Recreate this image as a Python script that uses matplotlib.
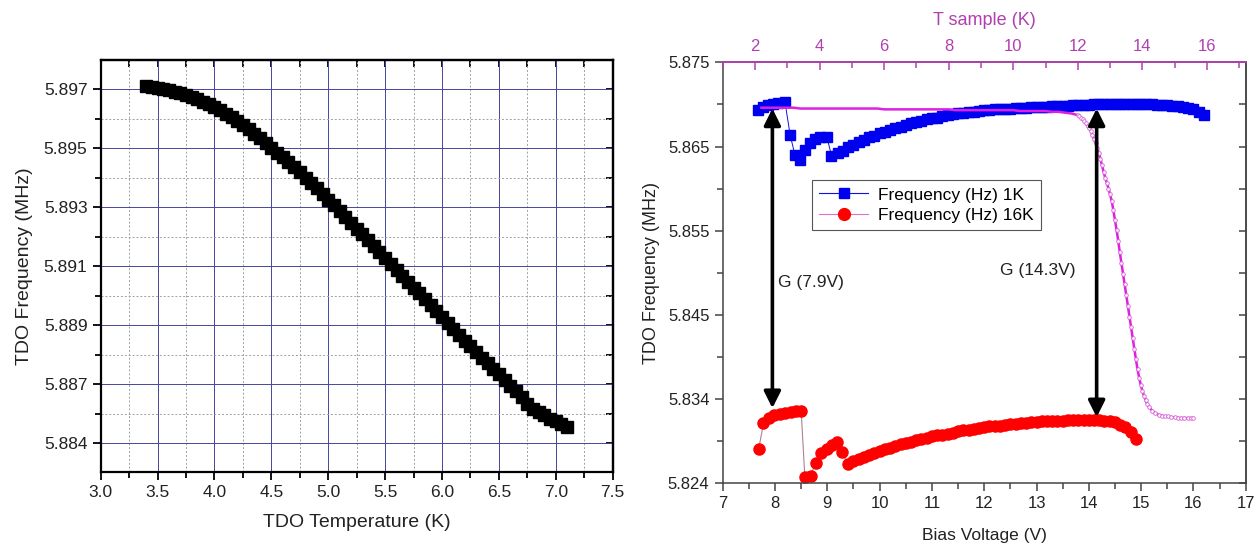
import numpy as np
import matplotlib
matplotlib.use('Agg')
import matplotlib.pyplot as plt
from matplotlib.lines import Line2D
from matplotlib.ticker import MultipleLocator, FixedLocator

plt.rcParams['font.family'] = ['Liberation Sans', 'DejaVu Sans']

# left panel: TDO frequency against TDO temperature (3.40 .. 7.10 K, step 0.05)
tdo_temp = np.round(np.arange(3.40, 7.101, 0.05), 2)
tdo_freq = [
    5.89710, 5.89707, 5.89704, 5.89700, 5.89696, 5.89691, 5.89686, 5.89680,
    5.89673, 5.89666, 5.89658, 5.89649, 5.89639, 5.89628, 5.89617, 5.89605,
    5.89592, 5.89578, 5.89564, 5.89549, 5.89534, 5.89518, 5.89502, 5.89485,
    5.89469, 5.89452, 5.89435, 5.89418, 5.89400, 5.89382, 5.89364, 5.89345,
    5.89326, 5.89307, 5.89288, 5.89268, 5.89248, 5.89228, 5.89208, 5.89188,
    5.89168, 5.89148, 5.89128, 5.89108, 5.89088, 5.89068, 5.89048, 5.89028,
    5.89008, 5.88988, 5.88968, 5.88948, 5.88928, 5.88908, 5.88888, 5.88868,
    5.88848, 5.88829, 5.88810, 5.88791, 5.88772, 5.88753, 5.88734, 5.88715,
    5.88696, 5.88677, 5.88658, 5.88635, 5.88618, 5.88605, 5.88595, 5.88584,
    5.88575, 5.88565, 5.88555,
]
left_yticks = [5.885, 5.887, 5.889, 5.891, 5.893, 5.895, 5.897]
left_ylabels = ['5.884', '5.887', '5.889', '5.891', '5.893', '5.895', '5.897']

# right panel: 1K sweep (blue squares)
blue_v_steps = [7.68, 7.78, 7.87, 7.97, 8.06, 8.19, 8.29, 8.38, 8.48, 8.57,
                8.67, 8.76, 8.86, 8.99, 9.08]
blue_f_steps = [5.8692, 5.8696, 5.8698, 5.8700, 5.8701, 5.8702, 5.8662, 5.8638,
                5.8632, 5.8644, 5.8652, 5.8657, 5.8659, 5.8660, 5.8637]
blue_v_band = np.round(np.arange(9.2, 16.201, 0.1), 1)
blue_f_band = [
    5.8640, 5.8643, 5.8647, 5.8650, 5.8653, 5.8656, 5.8659, 5.8661,
    5.8664, 5.8666, 5.8668, 5.8670, 5.8672, 5.8674, 5.8676, 5.8678, 5.8679, 5.8681,
    5.8682, 5.8683, 5.8685, 5.8686, 5.8687, 5.8688, 5.8689, 5.8690, 5.8690, 5.8691,
    5.8692, 5.8692, 5.8693, 5.8693, 5.8694, 5.8694, 5.8695, 5.8695, 5.8695, 5.8696,
    5.8696, 5.8696, 5.8696, 5.8697, 5.8697, 5.8697, 5.8697, 5.8698, 5.8698, 5.8698,
    5.8698, 5.8699, 5.8699, 5.8699, 5.8699, 5.8699, 5.8699, 5.8699, 5.8699, 5.8699,
    5.8699, 5.8699, 5.8699, 5.8698, 5.8698, 5.8698, 5.8697, 5.8697, 5.8696, 5.8695,
    5.8693, 5.8690, 5.8686,
]

# right panel: 16K sweep (red circles)
red_v_steps = [7.69, 7.78, 7.88, 7.99, 8.09, 8.19, 8.30, 8.40, 8.50, 8.57,
               8.68, 8.78, 8.88, 8.99, 9.09, 9.19, 9.28, 9.39]
red_f_steps = [5.8282, 5.8313, 5.8319, 5.8323, 5.8324, 5.8325, 5.8326, 5.8328,
               5.8328, 5.8248, 5.8249, 5.8265, 5.8277, 5.8281, 5.8286, 5.8290,
               5.8278, 5.8263]
red_v_band = np.round(np.arange(9.5, 14.901, 0.1), 1)
red_f_band = [
    5.8267, 5.8270, 5.8272, 5.8274, 5.8277,
    5.8279, 5.8281, 5.8283, 5.8285, 5.8287, 5.8289, 5.8290, 5.8292, 5.8294, 5.8295,
    5.8297, 5.8298, 5.8299, 5.8300, 5.8301, 5.8303, 5.8304, 5.8305, 5.8306, 5.8307,
    5.8308, 5.8309, 5.8310, 5.8310, 5.8311, 5.8312, 5.8312, 5.8313, 5.8313, 5.8314,
    5.8314, 5.8315, 5.8315, 5.8316, 5.8316, 5.8316, 5.8317, 5.8317, 5.8317, 5.8317,
    5.8317, 5.8317, 5.8317, 5.8316, 5.8315, 5.8314, 5.8311, 5.8308, 5.8302, 5.8294,
]

# right panel: sample temperature sweep (magenta, top axis)
mag_t = np.concatenate([
    np.round(np.arange(2.2, 11.801, 0.2), 2),
    np.round(np.arange(12.0, 14.201, 0.05), 2),
    np.round(np.arange(14.3, 15.501, 0.1), 2),
    [15.57],
])
mag_f = [
    5.8695, 5.8695, 5.8695, 5.8695, 5.8695, 5.8695,
    5.8694, 5.8694, 5.8694, 5.8694, 5.8694, 5.8694, 5.8694, 5.8694, 5.8694, 5.8694,
    5.8694, 5.8694, 5.8694,
    5.8693, 5.8693, 5.8693, 5.8693, 5.8693, 5.8693, 5.8693, 5.8693, 5.8693, 5.8693, 5.8693,
    5.8692, 5.8692, 5.8692, 5.8692, 5.8692, 5.8692, 5.8692, 5.8692, 5.8692, 5.8692,
    5.8691, 5.8691, 5.8691, 5.8691, 5.8691,
    5.8690, 5.8690, 5.8689, 5.8688,
    5.8686, 5.8685, 5.8683, 5.8681, 5.8679, 5.8676, 5.8673, 5.8670, 5.8667, 5.8662,
    5.8657, 5.8652, 5.8646, 5.8640, 5.8633, 5.8625, 5.8617, 5.8610, 5.8604, 5.8597,
    5.8590, 5.8582, 5.8571, 5.8559, 5.8547, 5.8534, 5.8520, 5.8507, 5.8494, 5.8481,
    5.8468, 5.8455, 5.8442, 5.8429, 5.8416, 5.8403, 5.8390, 5.8378, 5.8368, 5.8359,
    5.8352, 5.8346, 5.8341, 5.8336, 5.8333,
    5.8328, 5.8325, 5.8323, 5.8322, 5.8321, 5.8321, 5.8320, 5.8320, 5.8319, 5.8319,
    5.8319, 5.8319, 5.8319,
    5.8319,
]

right_yticks = [5.824, 5.8342, 5.8444, 5.8546, 5.8648, 5.875]
right_ylabels = ['5.824', '5.834', '5.845', '5.855', '5.865', '5.875']

# gap arrows (bias voltage, bottom / top frequency) and their labels
gap_v = [7.95, 14.15]
gap_low = [5.8331, 5.8320]
gap_high = [5.8694, 5.8694]
gap_text = ['G (7.9V)', 'G (14.3V)']
gap_text_pos = [(8.06, 5.8483), (12.30, 5.8498)]

TXT = '#222222'
MAG = '#b040b0'

fig = plt.figure(figsize=(12.56, 5.48), dpi=100)

# ---------------- left panel ----------------
axL = fig.add_axes([0.0802, 0.1392, 0.4076, 0.7513])
axL.plot(tdo_temp, tdo_freq, ls='none', marker='s', ms=8, color='black', zorder=3)
axL.set_xlim(3.0, 7.5)
axL.set_ylim(5.88404, 5.89799)
axL.xaxis.set_major_locator(MultipleLocator(0.5))
axL.xaxis.set_minor_locator(MultipleLocator(0.25))
axL.yaxis.set_major_locator(FixedLocator(left_yticks))
axL.set_yticklabels(left_ylabels)
axL.yaxis.set_minor_locator(FixedLocator([t + 0.001 for t in left_yticks[:-1]]))
axL.xaxis.set_major_formatter(matplotlib.ticker.FormatStrFormatter('%.1f'))
axL.grid(which='major', color='#4646a0', lw=0.7)
axL.grid(which='minor', color='#a0a0a0', lw=0.7, ls=(0, (2, 2)))
axL.set_axisbelow(True)
axL.tick_params(which='both', direction='out', width=1.3, labelsize=12.5, colors='black', labelcolor=TXT)
axL.tick_params(which='major', length=6)
axL.tick_params(which='minor', length=4)
for s in axL.spines.values():
    s.set_linewidth(1.6)
topL = axL.secondary_xaxis('top')
topL.xaxis.set_major_locator(MultipleLocator(0.5))
topL.xaxis.set_minor_locator(MultipleLocator(0.25))
topL.tick_params(which='both', direction='in', length=5, width=1.3, labeltop=False)
topL.spines['top'].set_linewidth(1.6)
rightL = axL.secondary_yaxis('right')
rightL.yaxis.set_major_locator(FixedLocator(left_yticks))
rightL.yaxis.set_minor_locator(FixedLocator([t + 0.001 for t in left_yticks[:-1]]))
rightL.tick_params(which='both', direction='in', length=5, width=1.3, labelright=False)
rightL.spines['right'].set_linewidth(1.6)
axL.set_xlabel('TDO Temperature (K)', fontsize=14, color=TXT, labelpad=10)
axL.set_ylabel('TDO Frequency (MHz)', fontsize=14, color=TXT, labelpad=8)

# ---------------- right panel ----------------
axR = fig.add_axes([0.5754, 0.1181, 0.4164, 0.7682])
blue_v = np.concatenate([blue_v_steps, blue_v_band])
blue_f = np.concatenate([blue_f_steps, blue_f_band])
red_v = np.concatenate([red_v_steps, red_v_band])
red_f = np.concatenate([red_f_steps, red_f_band])
axR.plot(blue_v, blue_f, color='#1010e0', lw=0.7, marker='s', ms=7, mfc='#0000f0', mec='#0000f0')
axR.plot(red_v, red_f, color='#b08090', lw=0.8, marker='o', ms=8, mfc='#ff0000', mec='#ff0000')
axR.set_xlim(7, 17)
axR.set_ylim(5.824, 5.875)
axR.xaxis.set_major_locator(MultipleLocator(1))
axR.xaxis.set_minor_locator(MultipleLocator(0.5))
axR.yaxis.set_major_locator(FixedLocator(right_yticks))
axR.set_yticklabels(right_ylabels)
right_minor = [(a + b) / 2 for a, b in zip(right_yticks[:-1], right_yticks[1:])]
axR.yaxis.set_minor_locator(FixedLocator(right_minor))
axR.tick_params(which='both', direction='out', width=1.1, labelsize=12, colors='#444444', labelcolor=TXT)
axR.tick_params(which='major', length=6)
axR.tick_params(which='minor', length=4)
for s in axR.spines.values():
    s.set_linewidth(1.1)
    s.set_color('#444444')
rightR = axR.secondary_yaxis('right')
rightR.yaxis.set_major_locator(FixedLocator(right_yticks))
rightR.yaxis.set_minor_locator(FixedLocator(right_minor))
rightR.tick_params(which='both', direction='in', length=5, width=1.1, colors='#444444', labelright=False)
rightR.spines['right'].set_linewidth(1.1)
rightR.spines['right'].set_color('#444444')
axR.set_xlabel('Bias Voltage (V)', fontsize=12.5, color=TXT, labelpad=12)
axR.set_ylabel('TDO Frequency (MHz)', fontsize=13, color=TXT, labelpad=6)

axT = axR.twiny()
n_flat = 49  # open circles only show up clearly once the curve drops
axT.plot(mag_t, mag_f, color='#e020e0', lw=1.8, marker='o', ms=2.6, mfc='white', mec='#d860d8',
         mew=0.6, markevery=list(range(n_flat, len(mag_t))))
axT.set_xlim(1.0, 17.2)
axT.xaxis.set_major_locator(MultipleLocator(2))
axT.xaxis.set_minor_locator(MultipleLocator(1))
axT.tick_params(axis='x', which='both', direction='in', colors=MAG, labelsize=12, width=1.1, pad=6)
axT.tick_params(axis='x', which='major', length=6)
axT.tick_params(axis='x', which='minor', length=4)
for name in ('bottom', 'left', 'right'):
    axT.spines[name].set_visible(False)
axT.spines['top'].set_color(MAG)
axT.spines['top'].set_linewidth(1.3)
axT.set_xlabel('T sample (K)', fontsize=13, color=MAG, labelpad=10)

for v, lo, hi in zip(gap_v, gap_low, gap_high):
    axT.annotate('', xy=(v, lo), xytext=(v, hi), xycoords=axR.transData, textcoords=axR.transData,
                 arrowprops=dict(arrowstyle='<|-|>', color='black', lw=2.6, mutation_scale=25,
                                 shrinkA=0, shrinkB=0))
for label, (x, y) in zip(gap_text, gap_text_pos):
    axT.text(x, y, label, transform=axR.transData, fontsize=12.5, color=TXT, va='center', ha='left')

handles = [
    Line2D([], [], color='#1010e0', lw=0.8, marker='s', ms=7.5, mfc='#0000f0', mec='#0000f0'),
    Line2D([], [], color='#e070d0', lw=0.8, marker='o', ms=8.5, mfc='#ff0000', mec='#ff0000'),
]
leg = axT.legend(handles, ['Frequency (Hz) 1K', 'Frequency (Hz) 16K'],
                 loc='upper left', bbox_to_anchor=(0.155, 0.74), fontsize=12.5,
                 frameon=True, fancybox=False, framealpha=1, edgecolor='#555555',
                 handlelength=2.8, borderpad=0.4, labelspacing=0.3, handletextpad=0.6)
leg.get_frame().set_linewidth(0.8)

fig.savefig('out.png', dpi=100)
